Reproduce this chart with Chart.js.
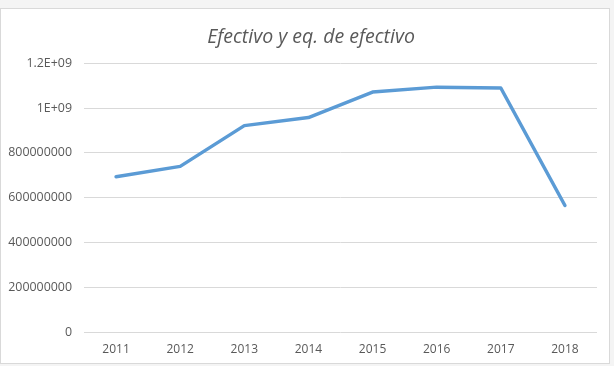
<!DOCTYPE html>
<html>
<head>
<meta charset="utf-8">
<script src="https://cdn.jsdelivr.net/npm/chart.js@4/dist/chart.umd.min.js"></script>
<style>
    body { margin: 0; background: #f4f4f4; width: 614px; height: 366px; overflow: hidden; }
    #wrap { position: absolute; left: 0; top: 8px; width: 608px; height: 354px; background: #fff; border: 1px solid #d9d9d9; }
</style>
</head>
<body>
<div id="wrap"><canvas id="myChart" width="608" height="354"></canvas></div>
<script>
const years = ['2011', '2012', '2013', '2014', '2015', '2016', '2017', '2018'];
const efectivo = [694000000, 740000000, 922000000, 958000000, 1072000000, 1094000000, 1090000000, 565000000];
const yTicks = [0, 200000000, 400000000, 600000000, 800000000, 1000000000, 1200000000];
const tickLabels = ['0', '200000000', '400000000', '600000000', '800000000', '1E+09', '1.2E+09'];

let ctx = document.getElementById('myChart').getContext('2d');

// centre the title over the whole frame, not just the plot side
const shiftTitle = {
    id: 'shiftTitle',
    afterLayout: (chart) => {
        if (chart.titleBlock) {
            chart.titleBlock.left = 24;
        }
    },
};

new Chart(ctx, {
    type: 'line',
    data: {
        labels: years,
        datasets: [
            {
                label: 'Efectivo y eq. de efectivo',
                data: efectivo,
                borderColor: '#5b9bd5',
                borderWidth: 3.5,
                pointRadius: 0,
                tension: 0,
                borderCapStyle: 'round',
                borderJoinStyle: 'round',
            },
        ],
    },
    options: {
        responsive: false,
        animation: false,
        layout: { padding: { left: 0, right: 12, top: 0, bottom: 0 } },
        plugins: {
            legend: { display: false },
            tooltip: { enabled: false },
            title: {
                display: true,
                text: 'Efectivo y eq. de efectivo',
                color: '#595959',
                font: { family: 'Open Sans', size: 19.5, style: 'italic', weight: 'normal' },
                padding: { top: 17, bottom: 14 },
            },
        },
        scales: {
            x: {
                offset: true,
                grid: { display: false, drawTicks: false },
                border: { display: false },
                ticks: { color: '#595959', font: { family: 'Open Sans', size: 12 }, padding: 10 },
                afterFit: (scale) => { scale.height = 31; },
            },
            y: {
                min: 0,
                max: 1200000000,
                grid: { color: '#d9d9d9', drawTicks: false },
                border: { display: false },
                afterBuildTicks: (scale) => { scale.ticks = yTicks.map((v) => ({ value: v })); },
                ticks: {
                    color: '#595959',
                    font: { family: 'Open Sans', size: 12.4 },
                    padding: 12,
                    callback: (value) => tickLabels[yTicks.indexOf(value)],
                },
                afterFit: (scale) => { scale.width = 83; },
            },
        },
    },
    plugins: [shiftTitle],
});
</script>
</body>
</html>
